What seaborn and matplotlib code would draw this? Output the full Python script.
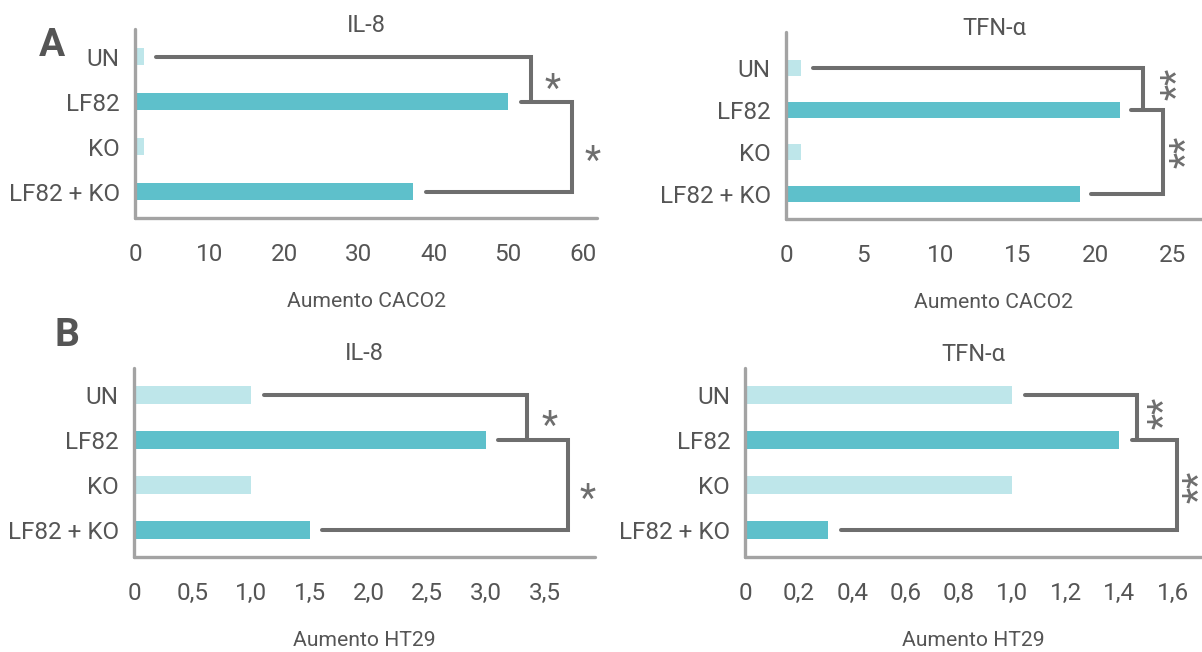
import matplotlib
matplotlib.use("Agg")
import matplotlib.pyplot as plt
import matplotlib.transforms as mtransforms
import seaborn as sns
import pandas as pd

# ---- data ----
categories = ["UN", "LF82", "KO", "LF82 + KO"]
caco2_il8 = [1.2, 50.0, 1.2, 37.3]
caco2_tnf = [1.0, 21.6, 1.0, 19.0]
ht29_il8 = [1.0, 3.0, 1.0, 1.5]
ht29_tnf = [1.0, 1.4, 1.0, 0.31]

titles = ["IL-8", "TFN-α", "IL-8", "TFN-α"]
xlabels = ["Aumento CACO2", "Aumento CACO2", "Aumento HT29", "Aumento HT29"]
ticks_a_il8 = [0, 10, 20, 30, 40, 50, 60]
ticks_a_tnf = [0, 5, 10, 15, 20, 25]
ticks_b_il8 = [0, 0.5, 1.0, 1.5, 2.0, 2.5, 3.0, 3.5]
ticks_b_tnf = [0, 0.2, 0.4, 0.6, 0.8, 1.0, 1.2, 1.4, 1.6]
# significance brackets: x of the two vertical segments, x of the star labels, stars
bracket_levels = [[53.0, 58.6], [23.1, 24.35], [3.35, 3.70], [1.465, 1.616]]
star_x = [[56.0, 61.3], [24.8, 25.4], [3.54, 3.87], [1.54, 1.67]]
star_y = [[0.55, 2.15], [0.38, 2.0], [0.53, 2.15], [0.4, 2.05]]
stars = ["*", "**", "*", "**"]

# ---- style ----
sns.set_style("white")
plt.rcParams["font.family"] = ["Roboto", "DejaVu Sans"]

TEAL = "#5EC0CB"
LIGHT = "#BEE6EA"
AXIS = "#A3A3A3"
BRK = "#6E6E6E"
TXT = "#555555"
palette = {"UN": LIGHT, "LF82": TEAL, "KO": LIGHT, "LF82 + KO": TEAL}

fig = plt.figure(figsize=(12.02, 6.52), dpi=100)

# axes rectangles (figure fraction)
rects = [
    [0.1123, 0.6656, 0.3844, 0.2899],
    [0.6539, 0.6641, 0.3461, 0.2868],
    [0.1115, 0.1457, 0.3835, 0.2899],
    [0.6202, 0.1457, 0.3798, 0.2899],
]
xmax = [61.9, 26.9, 3.93, 1.71]
ylims = [(3.58, -0.62), (3.6, -0.86), (3.6, -0.6), (3.6, -0.6)]
title_y = [1.018, 1.02, 1.079, 1.069]
values = [caco2_il8, caco2_tnf, ht29_il8, ht29_tnf]
ticks = [ticks_a_il8, ticks_a_tnf, ticks_b_il8, ticks_b_tnf]


def fmt(v, comma):
    if v == 0:
        return "0"
    if comma:
        return f"{v:.1f}".replace(".", ",")
    return f"{int(v)}"


for i in range(4):
    ax = fig.add_axes(rects[i])
    df = pd.DataFrame({"cat": categories, "val": values[i]})
    sns.barplot(data=df, y="cat", x="val", hue="cat", palette=palette,
                order=categories, orient="h", width=0.38, legend=False,
                ax=ax, saturation=1, linewidth=0)
    ax.set_xlim(0, xmax[i])
    ax.set_ylim(*ylims[i])
    for s in ["top", "right"]:
        ax.spines[s].set_visible(False)
    for s in ["left", "bottom"]:
        ax.spines[s].set_color(AXIS)
        ax.spines[s].set_linewidth(2.4)
        ax.spines[s].set_capstyle("round")
    comma = i >= 2
    ax.set_xticks(ticks[i])
    ax.set_xticklabels([fmt(t, comma) for t in ticks[i]])
    ax.tick_params(axis="x", direction="in", length=6.5, width=2.2,
                   color=AXIS, pad=18, labelsize=17.5, labelcolor=TXT)
    ax.tick_params(axis="y", length=0, pad=11, labelsize=17.5,
                   labelcolor=TXT)
    ax.set_ylabel("")
    ax.set_xlabel(xlabels[i], fontsize=15.2, color=TXT, labelpad=19)
    ax.text(0.5, title_y[i], titles[i], transform=ax.transAxes,
            ha="center", va="center", fontsize=17, color=TXT)

    # brackets
    gap = 0.027 * xmax[i]
    v = values[i]
    v1, v2 = bracket_levels[i]
    ax.plot([v[0] + gap, v1, v1], [0, 0, 1], color=BRK, lw=2.9,
            solid_capstyle="round", solid_joinstyle="miter", clip_on=False)
    ax.plot([v[1] + gap, v2, v2, v[3] + gap], [1, 1, 3, 3], color=BRK,
            lw=2.9, solid_capstyle="round", solid_joinstyle="miter",
            clip_on=False)
    rotated = len(stars[i]) > 1
    rot = 90 if rotated else 0
    # the asterisk glyph sits high in its em box: shift it back to centre
    if rotated:
        off = mtransforms.ScaledTranslation(6 / 72, 0, fig.dpi_scale_trans)
    else:
        off = mtransforms.ScaledTranslation(0, -6 / 72, fig.dpi_scale_trans)
    for sx, sy in zip(star_x[i], star_y[i]):
        ax.text(sx, sy, stars[i], ha="center", va="center", fontsize=27,
                color=BRK, rotation=rot, clip_on=False,
                transform=ax.transData + off)

fig.text(52 / 1202, 1 - 46 / 652, "A", fontsize=28, fontweight="bold",
         color=TXT, ha="center", va="center")
fig.text(67 / 1202, 1 - 336 / 652, "B", fontsize=28, fontweight="bold",
         color=TXT, ha="center", va="center")

fig.savefig("out.png", dpi=100)
